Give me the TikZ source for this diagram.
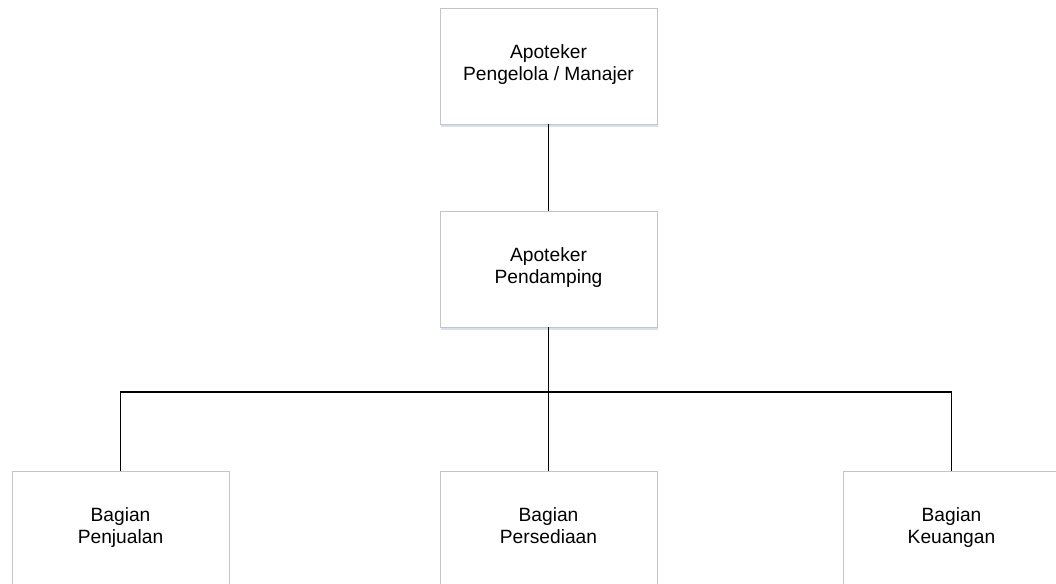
\documentclass[tikz,border=0pt]{standalone}
\usepackage{fontspec}
\setmainfont{Liberation Sans}
\usetikzlibrary{calc}
\definecolor{boxline}{RGB}{196,196,196}
\definecolor{boxshade}{RGB}{214,224,238}
\tikzset{jabatan/.style={draw=boxline, line width=0.6pt, fill=white, align=center,
  minimum width=162.75pt, minimum height=87pt, inner sep=0pt,
  font=\fontsize{14.4}{16.6}\selectfont,
  execute at begin node=\rule{0pt}{16.1pt}, execute at end node=\strut}}

\begin{document}
\begin{tikzpicture}[x=0.75pt, y=-0.75pt]
\useasboundingbox (0,0) rectangle (1056,584);
\node[jabatan] (manajer) at (548.5,66) {Apoteker\\Pengelola / Manajer};
\node[jabatan] (pendamping) at (548.5,269) {Apoteker\\Pendamping};
\node[jabatan] (penjualan) at (120.5,529) {Bagian\\Penjualan};
\node[jabatan] (persediaan) at (548.5,529) {Bagian\\Persediaan};
\node[jabatan] (keuangan) at (951.5,529) {Bagian\\Keuangan};
% bayangan tipis di bawah kotak
\foreach \n in {manajer,pendamping,penjualan,persediaan,keuangan} {
 \draw[boxshade, line width=1.5pt] ($(\n.south west)+(1,1.5)$) -- ($(\n.south east)+(1,1.5)$);
}
\coordinate (bus) at (548.5,392);
\draw[black, line width=1.3pt] (manajer) -- (pendamping);
\draw[black, line width=1.3pt] (pendamping) -- (persediaan);
\draw[black, line width=1.3pt] (penjualan.north) |- (bus) -| (keuangan.north);
\end{tikzpicture}
\end{document}
